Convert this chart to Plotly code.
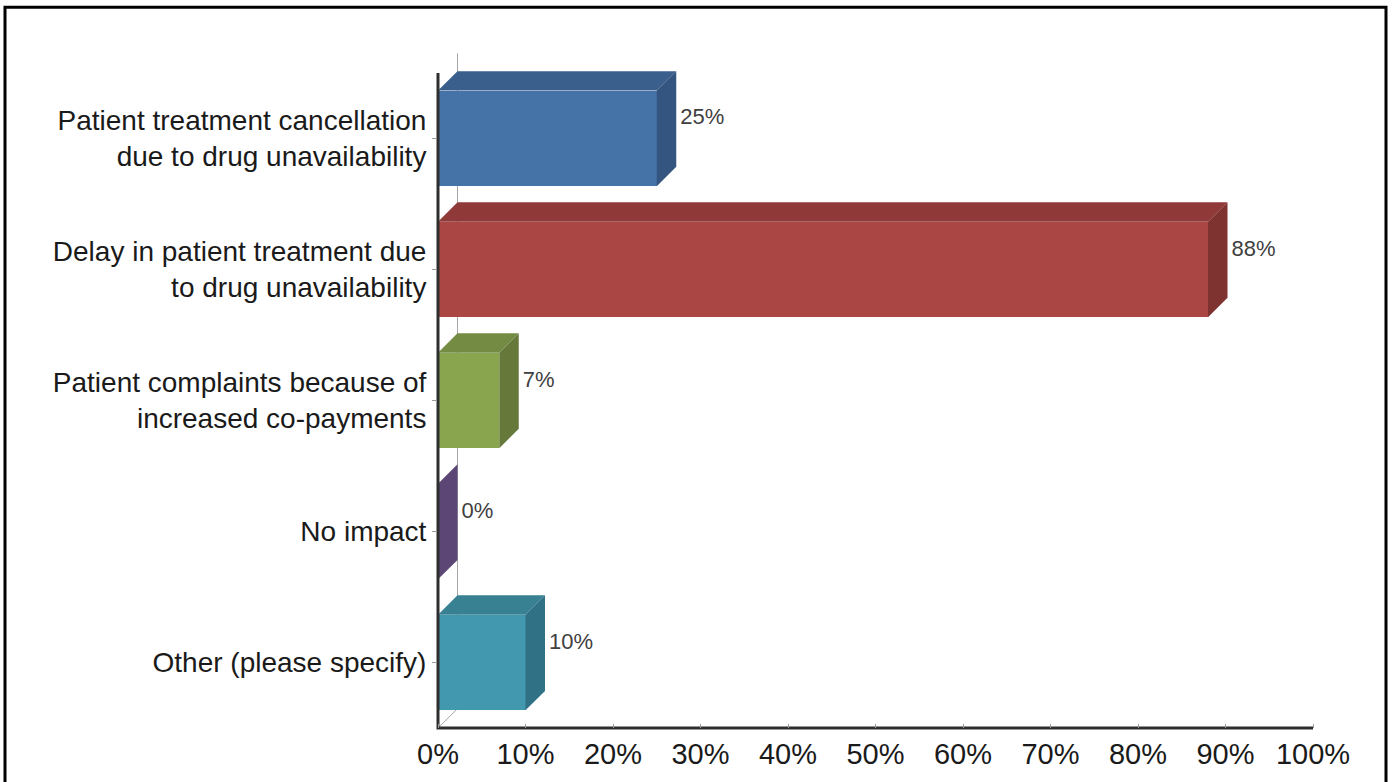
import plotly.graph_objects as go

# Survey responses: impact of drug shortages on patients
categories = [
    "Patient treatment cancellation<br>due to drug unavailability",
    "Delay in patient treatment due<br>to drug unavailability",
    "Patient complaints because of<br>increased co-payments",
    "No impact",
    "Other (please specify)",
]
values = [0.25, 0.88, 0.07, 0.00, 0.10]
value_labels = ["25%", "88%", "7%", "0%", "10%"]
x_ticks = [i / 10 for i in range(11)]
x_tick_labels = [f"{i * 10}%" for i in range(11)]

front_colors = ["#4573A8", "#AA4644", "#89A54E", "#71588F", "#4298AF"]
top_colors = ["#3A5F8C", "#8F3A38", "#738B42", "#5F4A79", "#388193"]
side_colors = ["#34557F", "#7E3331", "#66793A", "#5B4676", "#317186"]

# Pixel geometry of the canvas
W, H = 1393, 782
x0_px, x1_px = 438, 1313          # 0% and 100% on the value axis
y_top_px, y_bot_px = 73, 731      # front extent of category axis
n = len(categories)
band = (y_bot_px - y_top_px) / n  # px per category
scale_x = (x1_px - x0_px)         # px per unit value

# plot area (a bit larger than the axes, so the 3D depth fits)
pa_l, pa_r, pa_t, pa_b = 425, 1325, 45, 745

depth_px = 19.5
dx = depth_px / scale_x           # depth offset in value units
dy = depth_px / band              # depth offset in category units
bar_h = 96 / band                 # bar thickness in category units
label_gap = 4 / scale_x

pos = list(range(n))

def to_yval(py):
    return (py - y_top_px) / band - 0.5

x_range = [(pa_l - x0_px) / scale_x, (pa_r - x0_px) / scale_x]
y_range = [to_yval(pa_b), to_yval(pa_t)]  # reversed: first category on top

fig = go.Figure()

# front faces of the bars
fig.add_trace(go.Bar(
    x=values, y=pos, orientation="h", width=bar_h,
    marker=dict(color=front_colors, line=dict(width=0)),
    hoverinfo="skip", showlegend=False,
))

# top and side faces give each bar its depth
for i, v in enumerate(values):
    top = i - bar_h / 2
    bot = i + bar_h / 2
    fig.add_trace(go.Scatter(
        x=[0, v, v + dx, dx, 0],
        y=[top, top, top - dy, top - dy, top],
        mode="lines", fill="toself", fillcolor=top_colors[i],
        line=dict(width=0, color=top_colors[i]),
        hoverinfo="skip", showlegend=False,
    ))
    fig.add_trace(go.Scatter(
        x=[v, v + dx, v + dx, v, v],
        y=[top, top - dy, bot - dy, bot, top],
        mode="lines", fill="toself", fillcolor=side_colors[i],
        line=dict(width=0, color=side_colors[i]),
        hoverinfo="skip", showlegend=False,
    ))

# value labels beside the back corner of each bar
fig.add_trace(go.Scatter(
    x=[v + dx + label_gap for v in values], y=[i - dy for i in pos],
    mode="text", text=value_labels, textposition="middle right",
    textfont=dict(family="Liberation Sans, Arial", size=22, color="#404040"),
    hoverinfo="skip", showlegend=False, cliponaxis=False,
))

# front axis lines
y_front_top, y_front_bot = -0.5, n - 0.5
fig.add_trace(go.Scatter(
    x=[0, 0, 1], y=[y_front_top, y_front_bot, y_front_bot],
    mode="lines", line=dict(color="#2E2E2E", width=3),
    hoverinfo="skip", showlegend=False,
))

paper_w = pa_r - pa_l
paper_h = pa_b - pa_t

shapes = [
    # outer frame
    dict(
        type="rect", xref="paper", yref="paper",
        x0=(5 - pa_l) / paper_w, x1=(1386 - pa_l) / paper_w,
        y0=(pa_b - 800) / paper_h, y1=(pa_b - 7) / paper_h,
        line=dict(color="black", width=3), fillcolor="rgba(0,0,0,0)",
        layer="below",
    ),
    # back wall edge and floor edge, behind the bars
    dict(
        type="path", xref="x", yref="y", layer="below",
        path=(f"M{dx},{y_front_top - dy} L{dx},{y_front_bot - dy} "
              f"L0,{y_front_bot}"),
        line=dict(color="#A6A6A6", width=1),
    ),
]

fig.update_layout(
    width=W, height=H,
    margin=dict(l=pa_l, r=W - pa_r, t=pa_t, b=H - pa_b, pad=0),
    paper_bgcolor="white", plot_bgcolor="rgba(0,0,0,0)",
    font=dict(family="Liberation Sans, Arial", size=28, color="#1A1A1A"),
    bargap=0,
    xaxis=dict(
        range=x_range, tickvals=x_ticks, ticktext=x_tick_labels,
        showgrid=False, zeroline=False, showline=False,
        ticks="inside", ticklen=4, tickcolor="#9A9A9A", tickwidth=1,
        anchor="free", position=(pa_b - y_bot_px) / paper_h,
        ticklabelstandoff=6,
        tickfont=dict(size=29, color="#1A1A1A"),
    ),
    yaxis=dict(
        range=y_range, tickvals=pos, ticktext=categories,
        showgrid=False, zeroline=False, showline=False,
        ticks="outside", ticklen=5, tickcolor="#9A9A9A", tickwidth=1,
        anchor="free", position=(x0_px - 1 - pa_l) / paper_w,
        ticklabelstandoff=0,
        tickfont=dict(size=28, color="#1A1A1A"),
    ),
    shapes=shapes,
)

fig.write_html("out.html")
